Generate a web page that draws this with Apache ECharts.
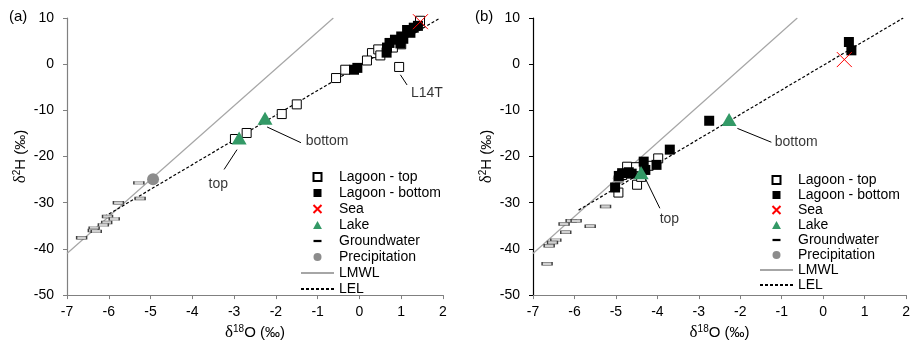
<!DOCTYPE html>
<html><head><meta charset="utf-8">
<script src="https://cdn.jsdelivr.net/npm/echarts@6/dist/echarts.min.js"></script>
<style>html,body{margin:0;padding:0;background:#fff}#c{width:913px;height:346px}</style>
</head><body><div id="c"></div>
<script>
// ---- axis ranges / ticks ----
const xRange = [-7, 2], xStep = 1;
const yRange = [-50, 10], yStep = 10;

// ---- panel (a) data: [d18O, d2H] ----
const lagoonTopA = [[1.45,9.4],[0.95,-0.6],[0.30,2.4],[0.45,3.2],[0.50,1.9],[0.18,0.8],[-0.34,-1.2],[-0.56,-3.0],[-1.50,-8.7],[-1.86,-10.8],[-2.70,-14.9],[-2.98,-16.2],[1.0,4.3],[0.8,3.6]];
const lagoonBottomA = [[-0.13,-1.2],[-0.05,-0.8],[0.65,2.5],[0.66,3.6],[0.72,4.6],[0.85,5.3],[0.98,4.5],[1.0,6.0],[1.05,5.5],[1.14,7.4],[1.22,6.8],[1.3,7.9],[1.4,8.3]];
const seaA = [[1.46,9.2]];
const lakeA = [[-2.88,-16.0],[-2.26,-11.7]];
const groundwaterA = [[-5.28,-25.7],[-5.25,-29.1],[-5.77,-30.0],[-6.03,-33.0],[-5.87,-33.5],[-6.05,-34.3],[-6.13,-34.8],[-6.35,-35.5],[-6.37,-36.0],[-6.30,-36.2],[-6.65,-37.6]];
const precipitationA = [[-4.94,-24.9]];
const lelA = [[-6.1,-33],[1.93,10]];

// ---- panel (b) data ----
const lagoonTopB = [[-3.98,-20.4],[-4.21,-22.0],[-4.53,-22.3],[-4.73,-22.2],[-4.49,-26.1],[-4.94,-27.8],[-4.39,-24.4],[-4.85,-24.0]];
const lagoonBottomB = [[0.62,4.8],[0.68,3.0],[-2.75,-12.25],[-3.70,-18.5],[-4.02,-21.8],[-4.33,-21.1],[-4.29,-22.9],[-4.62,-23.7],[-4.69,-23.4],[-4.85,-23.6],[-4.93,-24.2],[-5.02,-26.7]];
const seaB = [[0.51,1.0]];
const lakeB = [[-4.39,-23.5],[-2.27,-12.0]];
const groundwaterB = [[-5.25,-30.8],[-6.08,-33.9],[-5.96,-33.9],[-6.25,-34.6],[-5.62,-35.1],[-6.21,-36.4],[-6.45,-38.1],[-6.53,-38.6],[-6.61,-39.3],[-6.66,-43.2]];
const precipitationB = [[-4.93,-24.7]];
const lelB = [[-5.9,-31.6],[1.93,10]];

const lmwl = [[-7,-41],[-0.625,10]];

// annotations (data coords)
const notesA = [
  {text:'bottom', from:[-2.21,-13.6], to:[-1.40,-17.0], at:[-1.30,-16.7], align:'left'},
  {text:'top', from:[-2.93,-18.5], to:[-3.24,-22.8], at:[-3.38,-26.0], align:'center'},
  {text:'L14T', from:[0.98,-2.3], to:[1.14,-4.5], at:[1.22,-6.3], align:'left'}
];
const notesB = [
  {text:'bottom', from:[-2.07,-13.9], to:[-1.25,-16.9], at:[-1.18,-16.8], align:'left'},
  {text:'top', from:[-4.31,-24.4], to:[-3.94,-31.2], at:[-3.71,-33.6], align:'center'}
];

const FF = '"Liberation Sans", Arial, sans-serif';
const SQ = 'path://M0,0H10V10H0Z';
const TRI = 'path://M5,0L10,9H0Z';
const XP = 'path://M0,0L10,10M10,0L0,10';
const DASH = 'path://M0,0M10,10M0,3.6H10V6.4H0Z';

const panels = [
  {grid:{left:67, top:18, width:376, height:282}, yColor:'#808080', leg:{left:300, top:170, gap:2},
   top:lagoonTopA, bottom:lagoonBottomA, sea:seaA, lake:lakeA, gw:groundwaterA, prec:precipitationA, lel:lelA, notes:notesA},
  {grid:{left:533, top:18, width:377, height:280}, yColor:'#000', leg:{left:759, top:173, gap:1},
   top:lagoonTopB, bottom:lagoonBottomB, sea:seaB, lake:lakeB, gw:groundwaterB, prec:precipitationB, lel:lelB, notes:notesB}
];

const richName = {
  d:{fontFamily:'"Liberation Serif", serif', fontSize:17, color:'#000'},
  s:{fontFamily:FF, fontSize:10, color:'#000', padding:[0,0,7,0]}
};

const hidden = {color:'rgba(0,0,0,0)', borderColor:'rgba(0,0,0,0)', borderWidth:0, opacity:0};
const legendItems = [
  {name:'Lagoon - top', icon:SQ},
  {name:'Lagoon - bottom', icon:SQ},
  {name:'Sea', icon:XP},
  {name:'Lake', icon:TRI},
  {name:'Groundwater', icon:DASH, itemStyle:{color:'#000', borderColor:'#000', borderWidth:0}},
  {name:'Precipitation', icon:'circle'},
  {name:'LMWL', itemStyle:hidden},
  {name:'LEL', itemStyle:hidden}
];

const series = [];
panels.forEach((p, i) => {
  const ax = {xAxisIndex:i, yAxisIndex:i};
  series.push({type:'line', name:'LMWL', ...ax, data:lmwl, symbol:'none', color:'#a6a6a6', lineStyle:{color:'#a6a6a6', width:1.2}, silent:true, z:1});
  series.push({type:'line', name:'LEL', ...ax, data:p.lel, symbol:'none', color:'#000', lineStyle:{color:'#000', width:1.2, type:[3,2]}, silent:true, z:1});
  series.push({type:'scatter', name:'Groundwater', ...ax, data:p.gw, symbol:'rect', symbolSize:[10,3], itemStyle:{color:'#d0d0d0', borderColor:'#404040', borderWidth:0.8, opacity:1}, z:2});
  series.push({type:'scatter', name:'Precipitation', ...ax, data:p.prec, symbol:'circle', symbolSize:12, itemStyle:{color:'#8c8c8c', opacity:1}, z:2});
  series.push({type:'scatter', name:'Lagoon - top', ...ax, data:p.top, symbol:'rect', symbolSize:9, itemStyle:{color:'#fff', borderColor:'#000', borderWidth:1, opacity:1}, z:3});
  series.push({type:'scatter', name:'Lagoon - bottom', ...ax, data:p.bottom, symbol:'rect', symbolSize:10, itemStyle:{color:'#000', opacity:1}, z:3});
  series.push({type:'scatter', name:'Lake', ...ax, data:p.lake, symbol:TRI, symbolSize:[15,13], itemStyle:{color:'#339966', opacity:1}, z:4});
  series.push({type:'scatter', name:'Sea', ...ax, data:p.sea, symbol:XP, symbolSize:15, itemStyle:{color:'#ff0000', borderColor:'#ff0000', borderWidth:1, opacity:1}, z:5});
  series.push({type:'lines', coordinateSystem:'cartesian2d', ...ax, polyline:false,
    data:p.notes.map(n => ({coords:[n.from, n.to]})), symbol:'none',
    lineStyle:{color:'#000', width:1, opacity:1}, silent:true, z:4});
  series.push({type:'scatter', ...ax, symbolSize:1, itemStyle:{color:'rgba(0,0,0,0)'}, silent:true, z:6,
    data:p.notes.map(n => ({value:n.at, name:n.text, label:{position:n.align === 'left' ? 'right' : 'inside'}})),
    label:{show:true, formatter:'{b}', color:'#000', fontSize:14, fontFamily:FF, distance:0}});
});

const option = {
  animation:false,
  backgroundColor:'#fff',
  textStyle:{fontFamily:FF},
  grid: panels.map(p => p.grid),
  xAxis: panels.map((p, i) => ({
    type:'value', gridIndex:i, min:xRange[0], max:xRange[1], interval:xStep,
    name:'{d|δ}{s|18}O (‰)', nameLocation:'middle', nameGap:26,
    nameTextStyle:{fontSize:15, color:'#000', fontFamily:FF, rich:richName},
    axisLine:{onZero:false, lineStyle:{color:'#808080', width:1.2}},
    axisTick:{show:true, length:4, lineStyle:{color:'#808080'}},
    axisLabel:{color:'#000', fontSize:14, fontFamily:FF, margin:10},
    splitLine:{show:false}
  })),
  yAxis: panels.map((p, i) => ({
    type:'value', gridIndex:i, min:yRange[0], max:yRange[1], interval:yStep,
    name:'{d|δ}{s|2}H (‰)', nameLocation:'middle', nameGap:38,
    nameTextStyle:{fontSize:15, color:'#000', fontFamily:FF, rich:richName},
    axisLine:{show:true, onZero:false, lineStyle:{color:p.yColor, width:1.2}},
    axisTick:{show:true, length:4, lineStyle:{color:p.yColor}},
    axisLabel:{color:'#000', fontSize:14, fontFamily:FF, margin:13},
    splitLine:{show:false}
  })),
  legend: panels.map(p => ({
    orient:'vertical', left:p.leg.left, top:p.leg.top, itemGap:p.leg.gap,
    itemWidth:33, itemHeight:8, symbolKeepAspect:true, padding:0, selectedMode:false,
    textStyle:{fontSize:14, color:'#000', fontFamily:FF, lineHeight:14},
    data:legendItems
  })),
  graphic:[
    {type:'text', left:9, top:9, style:{text:'(a)', font:'15px "Liberation Sans", Arial', fill:'#000'}},
    {type:'text', left:475, top:9, style:{text:'(b)', font:'15px "Liberation Sans", Arial', fill:'#000'}}
  ],
  series: series
};

const chart = echarts.init(document.getElementById('c'), null, {renderer:'canvas'});
chart.setOption(option);
</script></body></html>
